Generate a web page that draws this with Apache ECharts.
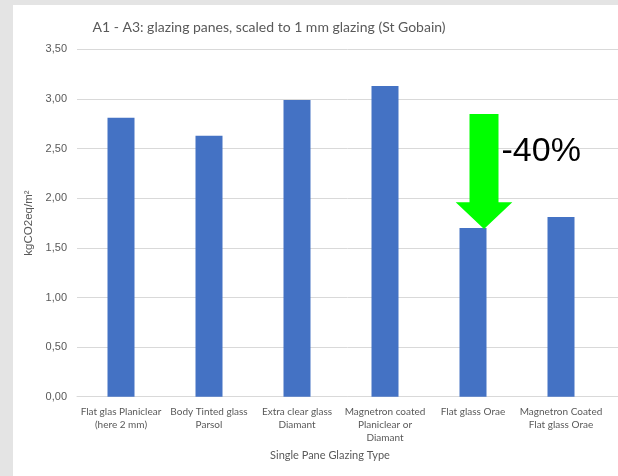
<!DOCTYPE html>
<html>
<head>
<meta charset="utf-8">
<script src="https://cdn.jsdelivr.net/npm/echarts@6/dist/echarts.min.js"></script>
<style>
  html, body { margin: 0; padding: 0; background: #e4e4e4; }
  #chart { position: absolute; left: 13px; top: 5px; width: 605px; height: 471px; background: #ffffff; }
</style>
</head>
<body>
<div id="chart"></div>
<script>
// glazing types (x axis)
var categories = [
  'Flat glas Planiclear\n(here 2 mm)',
  'Body Tinted glass\nParsol',
  'Extra clear glass\nDiamant',
  'Magnetron coated\nPlaniclear or\nDiamant',
  'Flat glass Orae',
  'Magnetron Coated\nFlat glass Orae'
]
// kgCO2eq/m2
var values = [2.81, 2.63, 2.99, 3.13, 1.70, 1.81]
var yTicks = ['0,00', '0,50', '1,00', '1,50', '2,00', '2,50', '3,00', '3,50']

// green arrow annotation on 'Flat glass Orae'
var arrowCategory = 4
var arrowTop = 2.85
var arrowHeadBase = 1.96
var arrowTip = 1.69
var arrowLabel = '-40%'

var labelFont = 'Lato, sans-serif'
var textGray = '#595959'

var chart = echarts.init(document.getElementById('chart'))

chart.setOption({
  animation: false,
  grid: [
    { left: 64, right: 13, top: 44.4, bottom: 79.3 },
    { left: 64, right: 0, top: 44.4, bottom: 79.3 }
  ],
  xAxis: [
    {
      gridIndex: 0,
      type: 'category',
      data: categories,
      axisLine: { show: false },
      axisTick: { show: false },
      axisLabel: {
        interval: 0,
        margin: 9,
        color: textGray,
        fontSize: 10,
        lineHeight: 13,
        fontFamily: labelFont
      },
      name: 'Single Pane Glazing Type',
      nameLocation: 'middle',
      nameGap: 53,
      nameTextStyle: {
        color: textGray,
        fontSize: 11,
        fontFamily: labelFont,
        padding: [0, 22, 0, 0]
      }
    },
    {
      gridIndex: 1,
      type: 'value',
      min: 0,
      max: 1,
      axisLine: { show: true, lineStyle: { color: '#d9d9d9', width: 1 } },
      axisTick: { show: false },
      axisLabel: { show: false },
      splitLine: { show: false }
    }
  ],
  yAxis: [
    {
      gridIndex: 0,
      type: 'value',
      min: 0,
      max: 3.5,
      interval: 0.5,
      axisLine: { show: false },
      axisTick: { show: false },
      splitLine: { show: false },
      axisLabel: {
        margin: 10,
        color: textGray,
        fontSize: 11,
        fontFamily: '"Liberation Sans", sans-serif',
        formatter: function (v) { return yTicks[Math.round(v / 0.5)] }
      },
      name: 'kgCO2eq/m²',
      nameLocation: 'middle',
      nameGap: 23,
      nameTextStyle: {
        color: textGray,
        fontSize: 11.5,
        fontFamily: '"Liberation Sans", sans-serif'
      }
    },
    {
      gridIndex: 1,
      type: 'value',
      min: 0,
      max: 3.5,
      interval: 0.5,
      axisLine: { show: false },
      axisTick: { show: false },
      axisLabel: { show: false },
      splitLine: { show: true, lineStyle: { color: '#d9d9d9', width: 1 } }
    }
  ],
  series: [
    {
      type: 'bar',
      xAxisIndex: 0,
      yAxisIndex: 0,
      data: values,
      barWidth: 27,
      itemStyle: { color: '#4472C4' },
      z: 3
    }
  ]
})

// arrow + label placed from data coordinates
var pTop = chart.convertToPixel({ seriesIndex: 0 }, [arrowCategory, arrowTop])
var pBase = chart.convertToPixel({ seriesIndex: 0 }, [arrowCategory, arrowHeadBase])
var pTip = chart.convertToPixel({ seriesIndex: 0 }, [arrowCategory, arrowTip])
var cx = pTop[0] + 11
var shaft = 14.5
var head = 28.3

chart.setOption({
  graphic: [
    {
      type: 'text',
      style: {
        text: 'A1 - A3: glazing panes, scaled to 1 mm glazing (St Gobain)',
        x: 256,
        y: 22,
        textAlign: 'center',
        textVerticalAlign: 'middle',
        fill: textGray,
        font: '14px ' + labelFont
      }
    },
    {
      type: 'polygon',
      z: 10,
      shape: {
        points: [
          [cx - shaft, pTop[1]],
          [cx + shaft, pTop[1]],
          [cx + shaft, pBase[1]],
          [cx + head, pBase[1]],
          [cx, pTip[1]],
          [cx - head, pBase[1]],
          [cx - shaft, pBase[1]]
        ]
      },
      style: { fill: '#00ff00' }
    },
    {
      type: 'text',
      z: 10,
      style: {
        text: arrowLabel,
        x: cx + shaft + 3,
        y: pTop[1] + 38,
        textVerticalAlign: 'middle',
        fill: '#000000',
        font: '34px "Liberation Sans", sans-serif'
      }
    }
  ]
})
</script>
</body>
</html>
